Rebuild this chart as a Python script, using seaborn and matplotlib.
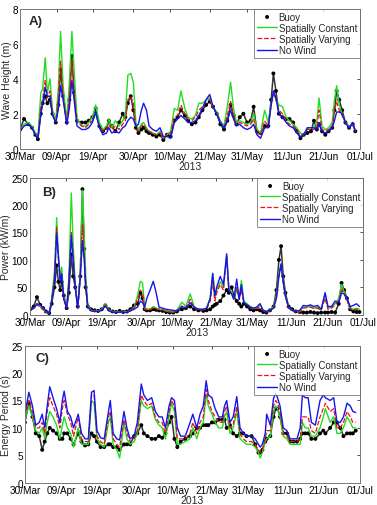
import matplotlib
matplotlib.use("Agg")
import matplotlib.pyplot as plt
import matplotlib.dates as mdates
import pandas as pd
import seaborn as sns

sns.set_theme(style="white")
plt.rcParams["font.family"] = ["Liberation Sans", "DejaVu Sans"]

START = pd.Timestamp("2013-03-30")
TICK_DATES = ["2013-03-30", "2013-04-09", "2013-04-19", "2013-04-30", "2013-05-10",
              "2013-05-21", "2013-05-31", "2013-06-11", "2013-06-21", "2013-07-01"]

GREEN = "#22dd22"
RED = "#ee1111"
BLUE = "#1414ee"

# ---- (A) wave height, m  (days since 30/Mar)
days_a = [0, 1.1, 2.3, 3.3, 4.2, 4.9, 5.7, 6.2, 6.9, 7.5, 8.2, 8.9, 9.8, 10.5, 11.1, 11.8,
          12.8, 13.5, 14.2, 14.8, 15.6, 16.9, 17.9, 18.8, 19.8, 20.7, 21.7, 22.7, 23.7, 24.3,
          25.1, 26.1, 27.1, 28.1, 28.8, 29.5, 30.3, 31.0, 31.7, 32.4, 33.2, 33.8, 34.6, 35.3,
          36.3, 37.3, 38.3, 39.2, 40.2, 41.2, 42.2, 43.1, 44.0, 45.1, 46.0, 47.0, 48.0, 48.9,
          49.9, 50.9, 51.9, 52.8, 53.8, 54.8, 55.8, 56.7, 57.6, 58.4, 59.2, 60.1, 61.1, 62.1,
          63.1, 63.9, 64.8, 65.8, 66.9, 67.9, 68.7, 69.3, 70.0, 70.8, 71.8, 72.8, 73.7, 74.7,
          75.7, 76.7, 77.6, 78.6, 79.6, 80.4, 81.2, 81.8, 82.6, 83.5, 84.4, 85.4, 86.0, 86.6,
          87.3, 88.1, 89.0, 90.0, 91.0, 91.7]
buoy_a = [1.1, 1.7, 1.4, 1.2, 0.8, 0.55, 2.0, 2.6, 3.0, 2.6, 2.8, 2.0, 1.5, 2.5, 4.5, 3.0,
          1.5, 2.8, 5.3, 3.2, 1.6, 1.5, 1.5, 1.6, 1.8, 2.3, 1.3, 1.0, 1.2, 1.6,
          1.3, 1.0, 1.5, 2.0, 1.8, 2.6, 3.0, 2.2, 1.2, 0.9, 1.1, 1.2, 1.0, 0.9,
          0.8, 0.7, 0.8, 0.5, 0.8, 0.7, 1.6, 1.8, 2.2, 1.9, 1.6, 1.4, 1.5, 1.8,
          2.2, 2.5, 2.7, 2.4, 2.0, 1.4, 1.1, 1.6, 2.5, 1.9, 1.4, 1.8, 2.0, 1.5,
          1.6, 2.4, 1.0, 0.9, 1.3, 1.3, 2.8, 4.3, 3.3, 2.0, 1.8, 1.7, 1.7, 1.5,
          1.0, 0.6, 0.8, 0.9, 1.0, 1.6, 1.1, 1.4, 1.0, 0.8, 1.0, 1.2, 2.2, 3.3,
          2.8, 2.2, 1.5, 1.2, 1.4, 1.0]
const_a = [1.0, 1.4, 1.5, 1.3, 0.9, 0.7, 3.2, 3.4, 5.2, 3.2, 4.0, 2.2, 1.6, 3.5, 6.7, 3.6,
           1.6, 3.8, 6.7, 4.5, 1.7, 1.3, 1.3, 1.5, 1.8, 2.5, 1.5, 1.1, 1.3, 1.7,
           1.2, 1.6, 1.3, 1.6, 1.9, 4.2, 4.3, 3.8, 1.5, 1.1, 1.4, 1.5, 1.2, 1.0,
           0.9, 0.8, 1.0, 0.6, 0.8, 1.0, 2.3, 2.2, 3.3, 2.3, 1.8, 1.7, 1.9, 2.6,
           2.6, 2.8, 2.9, 2.4, 2.1, 1.6, 1.3, 2.4, 3.8, 2.3, 1.5, 1.6, 1.5, 1.4,
           1.5, 2.0, 1.1, 0.9, 2.2, 1.5, 2.6, 3.2, 2.8, 2.5, 2.4, 1.8, 1.6, 1.4,
           1.2, 0.9, 0.8, 1.2, 1.2, 1.2, 1.6, 2.9, 1.3, 1.1, 1.2, 1.5, 2.8, 3.6,
           2.5, 2.0, 1.5, 1.3, 1.4, 1.1]
vary_a = [1.0, 1.3, 1.4, 1.2, 0.8, 0.7, 2.4, 2.8, 3.9, 2.9, 3.3, 2.0, 1.5, 3.0, 5.0, 3.0,
          1.5, 3.0, 5.0, 3.3, 1.5, 1.3, 1.2, 1.4, 1.6, 2.0, 1.3, 1.0, 1.1, 1.4,
          1.1, 1.3, 1.1, 1.4, 1.6, 2.8, 3.0, 2.6, 1.2, 1.0, 1.3, 1.4, 1.1, 1.0,
          0.9, 0.8, 0.9, 0.6, 0.8, 0.9, 1.8, 1.9, 2.5, 2.0, 1.7, 1.6, 1.8, 2.2,
          2.4, 2.7, 2.8, 2.3, 2.0, 1.5, 1.2, 1.9, 2.7, 1.9, 1.4, 1.5, 1.4, 1.3,
          1.4, 1.7, 0.9, 0.8, 1.6, 1.3, 2.5, 3.2, 2.8, 2.2, 2.0, 1.6, 1.4, 1.3,
          1.0, 0.8, 0.8, 1.1, 1.1, 1.1, 1.3, 2.2, 1.1, 1.0, 1.1, 1.3, 2.2, 2.7,
          2.2, 1.9, 1.5, 1.2, 1.4, 1.0]
nowind_a = [1.0, 1.3, 1.4, 1.2, 0.8, 0.6, 2.0, 2.6, 3.5, 3.0, 3.0, 1.9, 1.5, 2.3, 3.6, 2.8,
            1.4, 2.3, 3.9, 2.8, 1.3, 1.1, 1.1, 1.2, 1.5, 2.1, 1.2, 0.8, 0.9, 1.2,
            0.9, 1.0, 0.9, 1.2, 1.3, 1.6, 1.8, 1.7, 1.3, 1.4, 2.2, 2.6, 2.2, 1.3,
            1.1, 1.0, 1.2, 0.7, 0.7, 0.6, 1.5, 1.7, 1.9, 1.7, 1.5, 1.5, 1.6, 1.9,
            2.3, 2.8, 3.1, 2.4, 2.0, 1.5, 1.2, 1.6, 2.2, 1.7, 1.3, 1.4, 1.2, 1.1,
            1.2, 1.4, 0.8, 0.6, 1.2, 1.2, 2.5, 3.3, 2.9, 2.0, 1.8, 1.5, 1.3, 1.2,
            0.9, 0.7, 0.8, 1.2, 1.2, 1.2, 1.1, 1.5, 1.0, 0.9, 1.0, 1.2, 1.6, 2.1,
            2.1, 2.0, 1.5, 1.2, 1.5, 1.0]

# ---- (B) wave power, kW/m
days_b = [0, 1, 1.9, 2.8, 3.6, 4.4, 5.3, 6.0, 6.8, 7.4, 7.9, 8.4, 8.8, 9.4, 10.2, 10.8,
          11.5, 12.0, 12.6, 13.3, 14.0, 14.6, 15.1, 15.5, 16.1, 17, 18, 19, 20, 21, 22, 23,
          24, 25, 26, 27, 28, 29, 30, 30.8, 31.4, 32, 32.6, 33.5, 34.4, 35.2, 36, 37, 38,
          39, 40, 41, 42.4, 43.5, 44.7, 45.8, 47, 48.4, 49.3, 50.3, 51.0, 51.6, 52.1, 53.1,
          54.0, 54.9, 55.5, 56.3, 56.9, 57.7, 58.4, 59.0, 59.7, 60.6, 61.5, 62.4, 63.3, 64.2,
          65.1, 66.0, 67.0, 68.0, 68.8, 69.5, 70.1, 70.7, 71.3, 72.2, 73.2, 74.2, 75.3, 76.3,
          77.3, 78.3, 79.3, 80.3, 81.3, 82.4, 83.2, 84.2, 85.2, 86.2, 87.0, 87.7, 88.5, 89.4,
          90.3, 91.2, 92.0]
buoy_b = [10, 15, 32, 18, 12, 6, 3, 20, 50, 90, 60, 45, 60, 35, 12, 40,
          110, 70, 50, 15, 70, 229, 120, 50, 15, 10, 8, 7, 10, 17, 10, 6,
          5, 7, 5, 6, 10, 17, 20, 40, 30, 10, 8, 8, 10, 9, 8, 7, 5,
          4, 4, 6, 10, 12, 15, 10, 8, 7, 8, 10, 15, 18, 20, 25,
          35, 45, 40, 50, 35, 25, 20, 15, 20, 15, 10, 8, 10, 8,
          5, 4, 8, 15, 45, 100, 125, 70, 40, 15, 10, 6, 5, 4,
          4, 5, 4, 3, 4, 4, 4, 5, 4, 20, 58, 45, 30, 10,
          6, 5, 5]
const_b = [8, 12, 20, 15, 10, 5, 3, 28, 80, 177, 110, 70, 87, 30, 14, 65,
           222, 130, 55, 14, 75, 227, 150, 75, 17, 8, 7, 7, 10, 20, 9, 6,
           5, 6, 6, 5, 8, 12, 35, 61, 58, 12, 10, 10, 15, 12, 10, 9, 7,
           6, 5, 8, 23, 15, 38, 15, 10, 10, 12, 30, 76, 30, 45, 60,
           50, 105, 50, 40, 30, 45, 30, 62, 25, 20, 15, 12, 12, 20,
           8, 6, 8, 15, 35, 75, 92, 60, 35, 13, 8, 6, 6, 14,
           14, 15, 12, 14, 8, 40, 12, 14, 20, 30, 55, 42, 28, 12,
           10, 12, 10]
vary_b = [8, 12, 18, 14, 10, 5, 3, 25, 70, 160, 100, 62, 75, 28, 12, 55,
          150, 110, 52, 13, 70, 165, 110, 60, 15, 8, 7, 6, 9, 18, 8, 5,
          5, 6, 5, 5, 8, 12, 28, 45, 40, 10, 9, 9, 13, 11, 9, 9, 6,
          5, 5, 7, 16, 13, 28, 13, 9, 9, 10, 25, 60, 25, 40, 55,
          45, 108, 45, 38, 28, 50, 28, 45, 22, 18, 13, 10, 11, 15,
          7, 5, 7, 13, 32, 70, 90, 58, 33, 12, 8, 5, 5, 12,
          13, 14, 11, 12, 8, 30, 10, 12, 18, 25, 45, 38, 27, 11,
          9, 10, 9]
nowind_b = [8, 12, 20, 18, 14, 6, 3, 24, 60, 149, 105, 60, 75, 28, 12, 58,
            145, 100, 50, 12, 70, 135, 100, 55, 14, 7, 6, 6, 8, 16, 7, 5,
            4, 5, 5, 4, 7, 10, 14, 25, 22, 14, 30, 45, 61, 40, 14, 12, 10,
            9, 8, 7, 15, 12, 22, 14, 10, 10, 12, 30, 75, 35, 50, 70,
            55, 111, 45, 38, 28, 65, 28, 55, 22, 18, 14, 12, 14, 20,
            8, 6, 8, 12, 30, 70, 93, 60, 35, 13, 8, 6, 8, 17,
            16, 18, 15, 17, 10, 40, 15, 15, 25, 22, 40, 38, 30, 15,
            17, 20, 15]

# ---- (C) energy period, s
days_c = [0, 1.1, 2.1, 3.0, 4.0, 4.8, 5.5, 6.2, 6.9, 7.8, 8.8, 9.7, 10.4, 10.9, 11.8, 12.7,
          13.5, 14.8, 15.7, 16.7, 17.6, 18.5, 19.2, 20.0, 21.0, 22.0, 23.2, 23.7, 24.5, 25.5,
          26.3, 27.5, 28.3, 29.2, 30.3, 31.2, 32.3, 33.0, 34.0, 35.2, 36.2, 37.2, 38.1, 39.0,
          40.0, 40.7, 41.5, 42.3, 43.2, 44.5, 45.8, 46.6, 47.7, 48.6, 49.5, 50.3, 50.9, 51.9,
          52.8, 53.8, 54.8, 55.4, 56.0, 56.9, 57.8, 58.8, 59.7, 60.6, 61.5, 62.9, 63.9, 64.8,
          65.3, 65.9, 66.7, 67.1, 68.1, 69.0, 69.6, 70.1, 70.8, 71.7, 72.7, 73.6, 74.5, 75.5,
          76.4, 77.0, 77.8, 78.6, 79.5, 80.6, 81.9, 82.8, 83.4, 84.7, 85.7, 86.6, 87.5, 88.4,
          89.4, 90.3, 91.0, 91.8]
buoy_c = [11, 14.5, 12, 9, 8.5, 6, 7.5, 9, 10, 9.5, 9, 8, 8, 9, 9, 8,
          7, 9, 7.5, 6.8, 7, 9, 8.5, 7.5, 6.5, 6.5, 7, 7, 6.5, 6.5,
          6, 7, 7, 7, 8.5, 9, 10.5, 9, 8.5, 8, 8, 8.5, 8.2, 9,
          11, 12, 8, 6.5, 7.5, 8, 8.5, 9, 10, 10, 10.5, 10.5, 10.5, 11,
          11, 11.5, 11.5, 11.5, 10, 10.5, 9, 8.5, 9, 9, 8.5, 8.5, 7, 5.5,
          5.5, 6, 7.5, 8, 8.5, 12, 13.5, 13.5, 12, 9, 9, 7.5, 7.5, 7.5,
          8, 9, 9, 9, 8, 8, 9, 9.5, 9, 10, 11, 11, 10, 8.5,
          9, 9, 9, 9.5]
const_c = [11.5, 14, 12, 9.5, 9, 10, 8, 11, 13, 12, 10.5, 8, 10.5, 12, 10, 9,
           6.5, 10, 7, 7, 7, 15, 14.5, 8, 7, 6.5, 11, 12, 7, 6,
           4.5, 11, 8, 7, 7.5, 9, 15, 14, 13.5, 14, 11.5, 10.5, 10, 8,
           12, 14.5, 13, 7, 7, 7.5, 8, 10, 8, 10, 11, 16, 14, 12.5,
           11, 10, 10, 12, 13, 9, 10, 13, 8, 7.5, 7, 7, 6.5, 5.5,
           4.5, 5.5, 7.5, 8, 8.5, 13, 14, 13.5, 12, 8.5, 8, 7, 7, 7,
           7, 11, 10, 10, 8.5, 8.5, 10, 12, 13.5, 11, 12, 9, 9, 10,
           12, 11, 10, 10]
vary_c = [12, 15, 13, 10, 10, 11, 9, 13, 15.5, 14, 12.5, 10, 13.5, 15, 12.5, 11,
          8.5, 12, 8, 7.5, 7.5, 16, 16, 8.5, 7.5, 7, 12, 13, 8, 7,
          6.5, 11.5, 9, 7.5, 8, 9.5, 16, 15, 14, 14.5, 12, 11, 11, 9,
          13, 15, 14, 8, 8, 8, 9, 11, 9, 11, 12, 17, 15, 13,
          12, 11, 11, 13, 14, 10, 10.5, 14, 9, 8, 7.5, 7.5, 7, 6,
          5.5, 6, 8, 9.5, 9.5, 14, 15, 14.5, 13, 9, 8.5, 7.5, 7.5, 7.5,
          8, 12, 12, 12, 9.5, 9, 12, 13.5, 14.5, 13, 13.5, 10, 10, 11,
          13, 12, 11, 11]
nowind_c = [12.5, 16.5, 14, 10.5, 11, 12.5, 10, 14, 17.5, 15.5, 13.5, 11, 15, 16.7, 13, 12,
            10, 12.5, 9, 8, 8, 16.5, 16.8, 9.5, 8.2, 8, 13, 15, 9, 8,
            7.8, 13, 10, 8, 8.5, 11, 18, 16, 15, 15.5, 13, 12, 12, 10,
            14, 15.5, 15, 10, 8.5, 8.5, 10.9, 12.5, 10, 12.5, 14, 18.6, 16, 15.5,
            13.5, 12, 12, 14, 15, 11, 12, 15.7, 10, 9, 8.5, 8.5, 8, 7,
            6.5, 7, 9, 12.5, 10.5, 15.4, 16.3, 15.5, 14, 10, 9.5, 8, 8, 8,
            10, 16, 15.5, 15.5, 11, 10.5, 15, 16, 15.5, 15, 15.5, 11, 11, 12,
            14.5, 14, 13, 12.8]

PANELS = [
    # axes rect (fig fraction), data, y range, y ticks, y label, panel letter, letter pos
    ([0.053, 0.704, 0.902, 0.277], days_a, buoy_a, const_a, vary_a, nowind_a,
     8, [0, 2, 4, 6, 8], "Wave Height (m)", "A)", (0.027, 0.955)),
    ([0.080, 0.376, 0.883, 0.271], days_b, buoy_b, const_b, vary_b, nowind_b,
     250, [0, 50, 100, 150, 200, 250], "Power (kW/m)", "B)", (0.036, 0.94)),
    ([0.066, 0.044, 0.889, 0.271], days_c, buoy_c, const_c, vary_c, nowind_c,
     25, [0, 5, 10, 15, 20, 25], "Energy Period (s)", "C)", (0.033, 0.955)),
]


def draw_panel(ax, days, buoy, const, vary, nowind, ymax, yticks, ylabel, letter, lpos):
    t = START + pd.to_timedelta(days, unit="D")
    # buoy record is dense enough to read as a band of dots
    sns.lineplot(x=t, y=buoy, color="black", lw=1.1, alpha=0.8, ax=ax, legend=False)
    sns.scatterplot(x=t, y=buoy, color="black", s=8, marker="o", edgecolor="none",
                    label="Buoy", ax=ax)
    sns.lineplot(x=t, y=const, color=GREEN, lw=1.0, label="Spatially Constant", ax=ax)
    sns.lineplot(x=t, y=vary, color=RED, lw=0.9, linestyle="--",
                 label="Spatially Varying", ax=ax)
    sns.lineplot(x=t, y=nowind, color=BLUE, lw=1.0, label="No Wind", ax=ax)

    ax.set_xlim(pd.Timestamp("2013-03-30"), pd.Timestamp("2013-07-01"))
    ax.set_ylim(0, ymax)
    ax.set_yticks(yticks)
    ax.set_xticks(pd.to_datetime(TICK_DATES))
    ax.xaxis.set_major_formatter(mdates.DateFormatter("%d/%b"))
    ax.tick_params(direction="in", top=True, right=True, length=2.5, width=0.6,
                   labelsize=7.2, pad=1.5, colors="#333333", labelcolor="black")
    for sp in ax.spines.values():
        sp.set_color("#777777")
        sp.set_linewidth(0.7)
    ax.set_xlabel("2013", fontsize=7.5, labelpad=0)
    ax.set_ylabel(ylabel, fontsize=7.5, labelpad=0.5)
    ax.text(lpos[0], lpos[1], letter, transform=ax.transAxes, ha="left", va="top",
            fontsize=9.5, fontweight="bold")
    handles, labels = ax.get_legend_handles_labels()
    leg = ax.legend(handles[-4:], labels[-4:], loc="upper right", fontsize=7,
                    frameon=True, fancybox=False, edgecolor="#555555", borderaxespad=0,
                    handlelength=2.0, handletextpad=0.2, borderpad=0.3,
                    labelspacing=0.12)
    leg.get_frame().set_linewidth(0.6)


fig = plt.figure(figsize=(3.77, 5.06), dpi=100)
for rect, *rest in PANELS:
    ax = fig.add_axes(rect)
    draw_panel(ax, *rest)

fig.savefig("out.png", dpi=100)
